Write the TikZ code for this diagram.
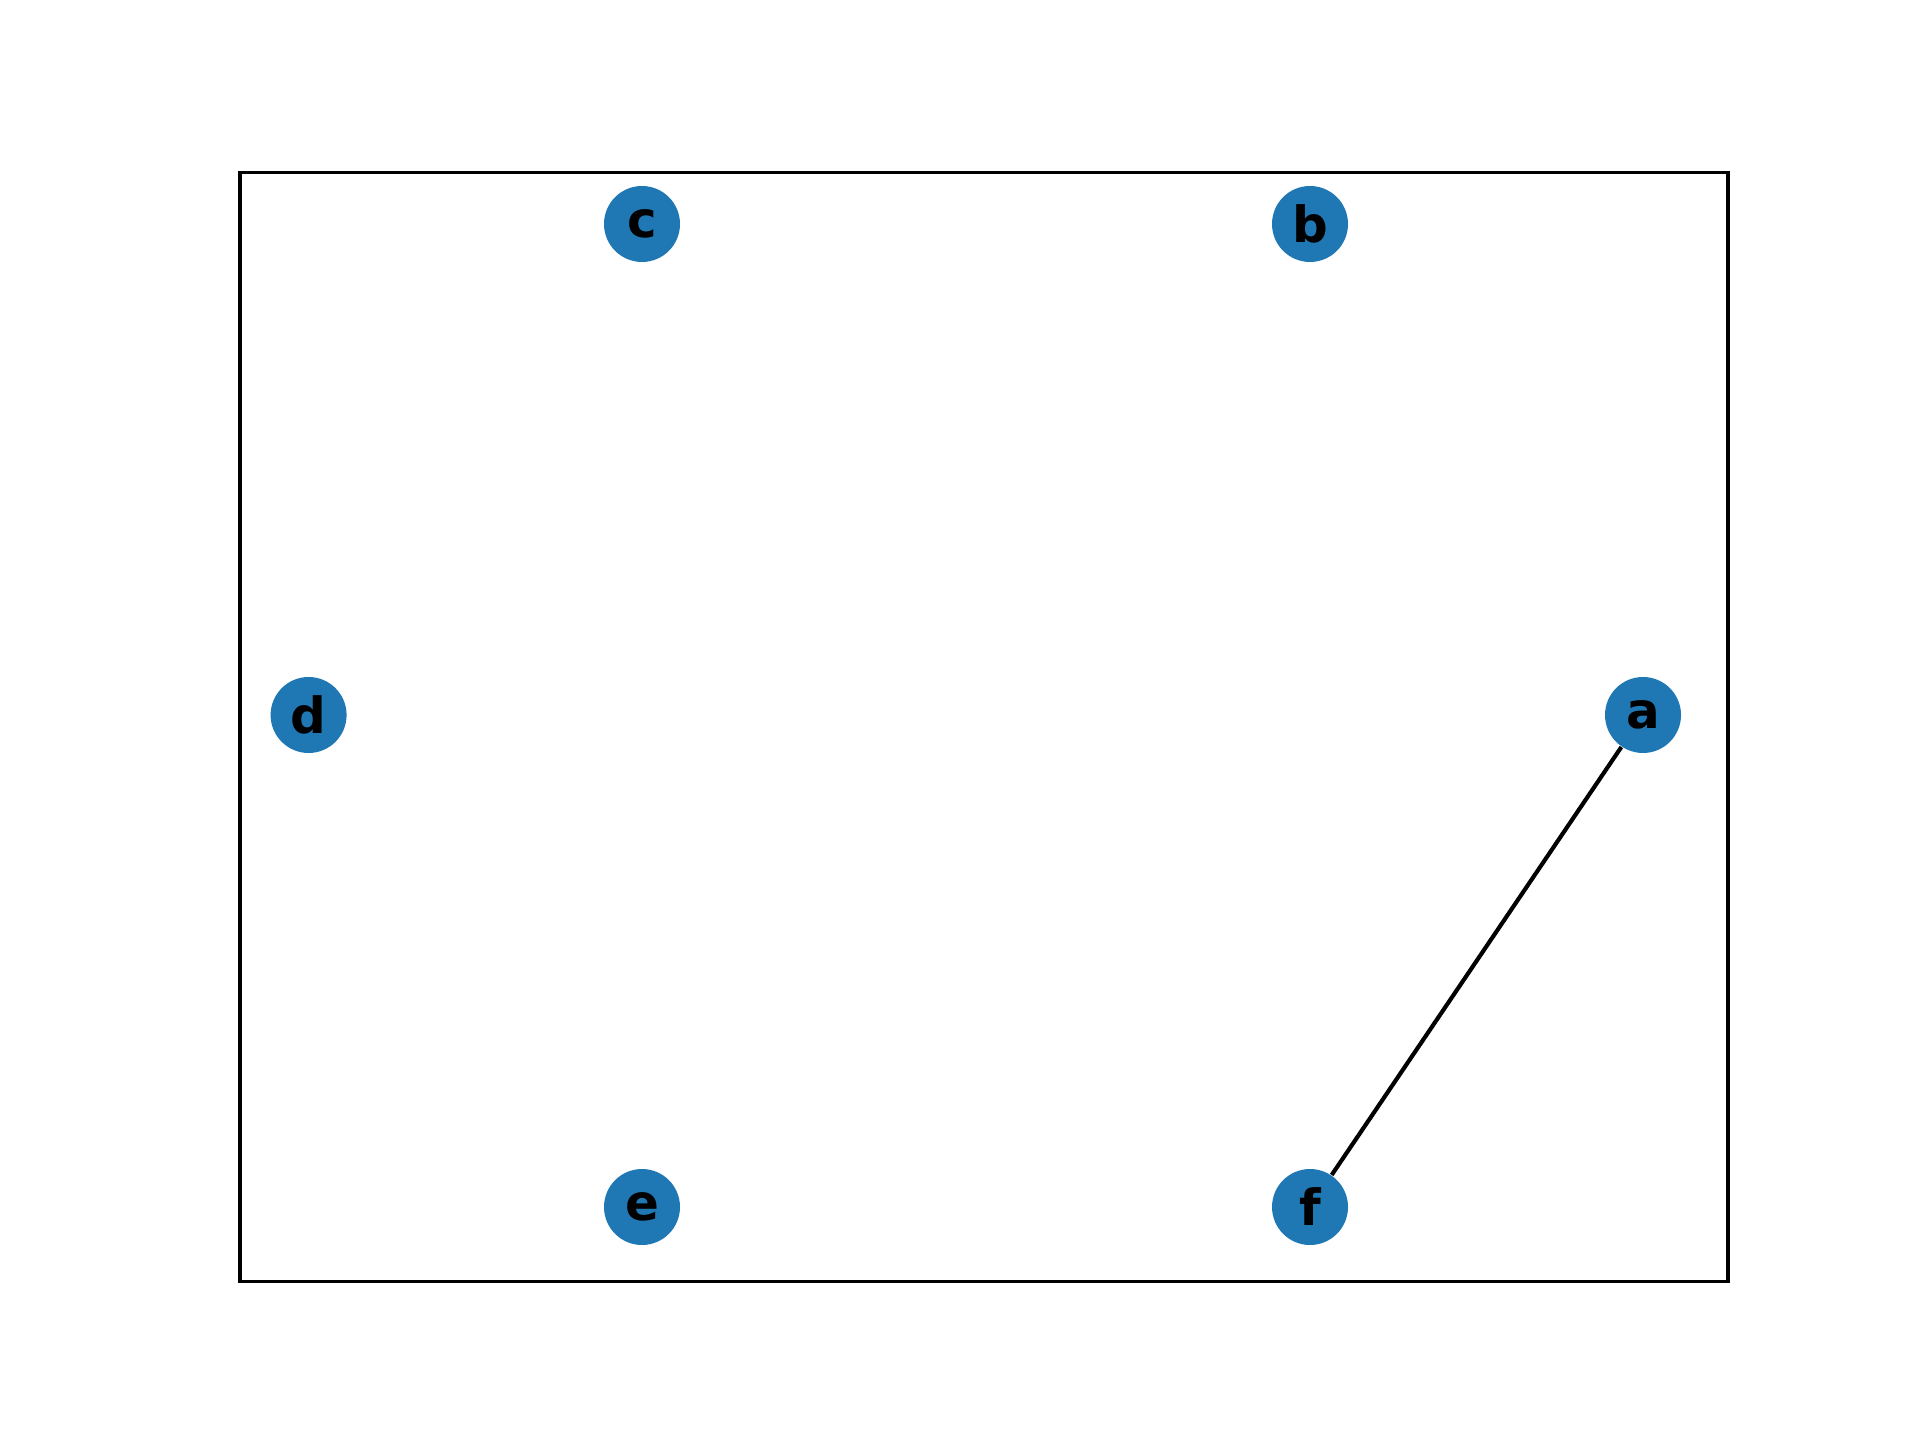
\documentclass[tikz,border=0pt]{standalone}
\usepackage{fontspec}
\setmainfont{DejaVu Sans}
\definecolor{nodeblue}{HTML}{1F77B4}

\begin{document}
\begin{tikzpicture}
\tikzstyle{vert}=[circle,fill=nodeblue,minimum size=0.76cm,inner sep=0pt,font=\fontsize{14.2}{16}\selectfont\bfseries];
\tikzstyle{link}=[line width=1.18pt];
\tikzstyle{frame}=[line width=0.94pt];
\useasboundingbox (0,0) rectangle (19.2,14.4);
\draw [frame] (2.4,1.584) rectangle (17.28,12.672);
\node [vert] (a) at (16.43,7.25) {a};
\node [vert] (b) at (13.10,12.16) {b};
\node [vert] (c) at (6.42,12.16) {c};
\node [vert] (d) at (3.086,7.25) {d};
\node [vert] (e) at (6.42,2.33) {e};
\node [vert] (f) at (13.10,2.33) {f};
\draw [link] (a) -- (f);
\end{tikzpicture}
\end{document}
